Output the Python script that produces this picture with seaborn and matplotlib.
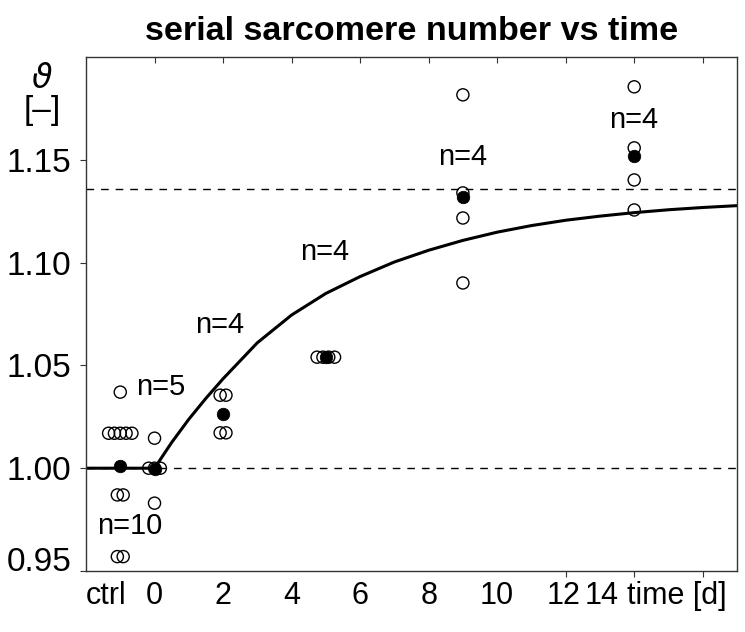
import numpy as np
import pandas as pd
import seaborn as sns
import matplotlib
matplotlib.use("Agg")
import matplotlib.pyplot as plt

# measured normalised sarcomere numbers per time point (ctrl drawn at day -1)
theta_ctrl = [1.037, 1.017, 1.017, 1.017, 1.017, 1.017, 0.987, 0.987, 0.957, 0.957]
theta_d0 = [1.0146, 1.000, 1.000, 1.000, 0.983]
theta_d2 = [1.0355, 1.0355, 1.0172, 1.0172]
theta_d5 = [1.054, 1.054, 1.054, 1.054]
theta_d9 = [1.1816, 1.1339, 1.1217, 1.0901]
theta_d14 = [1.1855, 1.1558, 1.1402, 1.1256]
days = [-1, 0, 2, 5, 9, 14]

# model curve
curve_t = [-2, -1, 0, 0.5, 1, 1.5, 2, 3, 4, 5, 6, 7, 8, 9, 10,
           11, 12, 13, 14, 15, 16, 17]
curve_theta = [1.0, 1.0, 1.0, 1.0125, 1.0238, 1.034, 1.0435, 1.061, 1.0745,
               1.0850, 1.0932, 1.1003, 1.1060, 1.1108, 1.1148, 1.1180,
               1.1206, 1.1226, 1.1243, 1.1257, 1.1268, 1.1277]
theta_inf = 1.136

xtick_labels = ["ctrl", "0", "2", "4", "6", "8", "10", "12", "14", "time [d]"]
ytick_vals = [0.95, 1.00, 1.05, 1.10, 1.15]

groups = [theta_ctrl, theta_d0, theta_d2, theta_d5, theta_d9, theta_d14]
df = pd.DataFrame({
    "day": np.repeat(days, [len(g) for g in groups]),
    "theta": np.concatenate(groups),
})
# spread identical values sideways so the circles stay visible
k = df.groupby(["day", "theta"]).cumcount()
cnt = df.groupby(["day", "theta"])["theta"].transform("size")
df["x"] = df["day"] + (k - (cnt - 1) / 2) * 0.17
means = df.groupby("day")["theta"].mean().reset_index()

sns.set_theme(style="ticks")
plt.rcParams["font.family"] = ["Liberation Sans", "DejaVu Sans"]
plt.rcParams["mathtext.fontset"] = "dejavusans"
plt.rcParams["text.color"] = "black"
plt.rcParams["xtick.labelcolor"] = "black"
plt.rcParams["ytick.labelcolor"] = "black"

fig = plt.figure(figsize=(7.45, 6.32), dpi=100)
ax = fig.add_axes([86 / 745, 61 / 632, 651 / 745, 514 / 632])

ax.axhline(1.0, color="black", lw=1, ls=(0, (5.5, 5)), zorder=1)
ax.axhline(theta_inf, color="black", lw=1, ls=(0, (5.5, 5)), zorder=1)

sns.lineplot(x=curve_t, y=curve_theta, color="black", lw=2.2, ax=ax,
             estimator=None, sort=False, zorder=2)
sns.scatterplot(data=df, x="x", y="theta", marker="o", s=76, fc="none",
                ec="black", linewidth=1.0, ax=ax, zorder=3)
sns.scatterplot(data=means, x="day", y="theta", marker="o", s=82,
                color="black", ec="black", linewidth=0.5, ax=ax, zorder=4)

for xx, yy, n in [(-0.73, 0.972, 10), (0.17, 1.0394, 5), (1.9, 1.0696, 4),
                  (4.96, 1.105, 4), (8.98, 1.1514, 4), (13.97, 1.1694, 4)]:
    ax.text(xx, yy, f"n={n}", ha="center", va="center", fontsize=21,
            color="black")

ax.set_xlim(-2, 17)
ax.set_ylim(0.95, 1.2)
ax.set_xlabel("")
ax.set_ylabel("")

ax.set_xticks([-1.4, 0, 2, 4, 6, 8, 10, 11.95, 13.05, 15.25])
ax.set_xticklabels(xtick_labels, fontsize=22)
ax.set_xticks(np.arange(0, 17, 2), minor=True)
ax.tick_params(axis="x", which="major", length=0, pad=7)
ax.tick_params(axis="x", which="minor", length=4.5, direction="out",
               width=0.8, color="#333333")
top = ax.secondary_xaxis("top")
top.set_xticks(np.arange(0, 17, 2))
top.tick_params(direction="in", length=4.5, width=0.8, labeltop=False,
                color="#333333")
top.spines["top"].set_visible(False)

ax.set_yticks(ytick_vals)
ylabels = ax.set_yticklabels([f"{v:.2f}" for v in ytick_vals], fontsize=24)
ylabels[0].set_verticalalignment("baseline")
ax.tick_params(axis="y", length=4.5, direction="out", width=0.8, pad=6,
               color="#333333")

for sp in ax.spines.values():
    sp.set_visible(True)
    sp.set_color("#333333")
    sp.set_linewidth(1.0)

fig.text(42 / 745, 1 - 80 / 632, r"$\vartheta$", ha="center", va="center",
         fontsize=24)
fig.text(42 / 745, 1 - 111 / 632, "[–]", ha="center", va="center", fontsize=24)
fig.text(412 / 745, 1 - 31 / 632, "serial sarcomere number vs time",
         ha="center", va="center", fontsize=24.6, fontweight="bold")

fig.savefig("out.png", dpi=100)
